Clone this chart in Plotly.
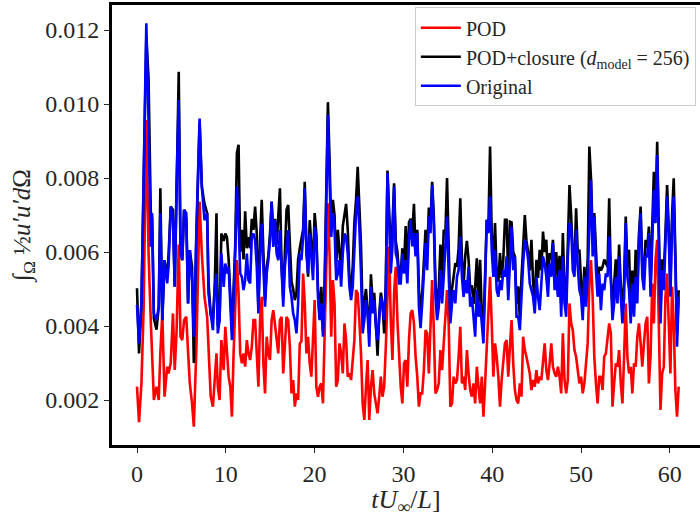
import numpy as np
import plotly.graph_objects as go

# time axis: first segment read at irregular instants, the rest on an even grid
t_head = [0, 0.23, 0.5, 0.75, 1.05, 1.3, 1.55, 1.7, 1.9, 2.2,
          2.45, 2.63, 2.85, 3.1, 3.4, 3.55, 3.8, 4.05, 4.25, 4.45,
          4.7, 4.9, 5.1, 5.3, 5.55, 5.75, 5.95, 6.2, 6.4, 6.7,
          6.9, 7.05, 7.3, 7.6, 7.9, 8.05, 8.3, 8.55, 8.75, 8.95,
          9.1, 9.3, 9.5]
t_tail = list(np.linspace(9.76, 61.0, 276))
t = t_head + t_tail

# values in units of 1e-3
original_milli = [
    # 0 - 9.5
    4.57, 3.53, 4.61, 8.67, 12.18, 9.57, 6.14, 7.05, 4.34, 4.16,
    4.52, 7.05, 4.16, 5.78, 5.15, 5.60, 7.23, 6.86, 5.06, 7.77,
    10.11, 5.96, 5.78, 7.14, 7.05, 4.61, 6.05, 5.24, 3.71, 6.68,
    8.67, 9.61, 7.77, 6.86, 7.05, 4.88, 4.34, 3.89, 5.06, 5.42,
    3.80, 4.16, 5.96,
    # 9.8 - 20.3
    5.06, 5.69, 5.42, 5.60, 4.34, 3.62, 4.79, 5.96, 7.77, 6.86,
    5.42, 5.33, 4.97, 5.24, 5.96, 5.24, 5.15, 6.41, 6.50, 6.32,
    5.60, 4.34, 5.96, 6.77, 5.60, 4.52, 5.42, 5.78, 6.32, 7.36,
    6.14, 6.86, 5.96, 5.78, 6.59, 5.42, 4.52, 5.60, 6.14, 6.59,
    5.06, 4.79, 4.34, 4.16, 3.80, 4.61, 5.96, 5.78, 6.41, 7.72,
    5.96, 5.42, 6.50, 5.78, 5.24, 6.68, 6.41,
    # 20.4 - 30.9
    4.79, 4.16, 4.61, 3.71, 4.88, 7.77, 9.70, 8.00, 6.41, 7.05,
    6.68, 5.24, 5.42, 5.78, 5.06, 5.96, 6.50, 6.41, 5.96, 5.06,
    4.70, 5.06, 6.32, 7.05, 7.50, 6.68, 5.42, 3.80, 4.16, 4.70,
    4.34, 3.44, 5.06, 4.34, 4.70, 3.98, 3.62, 4.16, 4.79, 4.52,
    4.16, 5.06, 8.13, 6.86, 5.42, 6.14, 7.77, 5.96, 5.78, 5.15,
    5.15, 5.96, 5.42, 5.78, 5.15, 6.32, 6.86,
    # 30.9 - 41.4
    6.15, 6.51, 5.88, 6.51, 4.52, 3.94, 4.61, 5.33, 6.24, 5.51,
    6.96, 6.51, 7.81, 6.78, 4.79, 4.16, 4.52, 5.51, 4.61, 5.33,
    6.24, 6.96, 5.42, 4.07, 4.61, 4.97, 4.61, 5.33, 5.51, 6.42,
    5.33, 4.79, 5.24, 4.88, 5.60, 4.52, 4.79, 4.25, 3.71, 4.97,
    4.25, 4.61, 3.98, 3.53, 5.15, 6.87, 6.51, 7.50, 6.06, 5.33,
    6.06, 4.97, 4.79, 5.24, 4.97, 5.51, 5.33,
    # 41.5 - 52.0
    5.88, 4.70, 5.69, 6.69, 5.51, 5.88, 4.25, 4.25, 3.89, 4.97,
    5.69, 6.33, 6.15, 5.79, 5.15, 4.97, 4.79, 4.34, 5.33, 4.79,
    4.43, 5.15, 5.88, 5.69, 5.33, 4.79, 5.69, 5.33, 6.24, 4.97,
    5.33, 4.79, 5.51, 4.25, 5.88, 4.61, 4.25, 5.88, 6.78, 6.69,
    5.51, 5.33, 6.60, 5.60, 4.97, 4.79, 4.16, 5.33, 4.52, 5.33,
    6.78, 7.95, 5.88, 6.96, 5.51, 4.79, 5.42,
    # 52.1 - 61.0
    4.43, 5.15, 4.97, 5.42, 5.33, 6.42, 4.97, 4.16, 4.61, 5.33,
    4.61, 5.88, 4.79, 4.07, 4.79, 6.78, 5.33, 4.97, 4.07, 5.15,
    4.25, 5.33, 4.61, 6.33, 7.05, 5.33, 4.97, 5.88, 5.88, 6.51,
    4.79, 6.51, 7.68, 6.78, 8.62, 6.33, 4.07, 5.51, 4.97, 6.24,
    7.50, 6.42, 4.79, 6.78, 7.50, 5.69, 3.44, 4.79,
]

closure_milli = [
    # 0 - 9.5
    5.02, 3.26, 4.61, 8.30, 11.80, 10.70, 7.10, 6.90, 4.20, 3.90,
    4.52, 7.72, 4.16, 5.78, 5.30, 5.90, 7.23, 7.14, 5.06, 7.50,
    10.87, 6.10, 5.78, 7.14, 6.90, 4.61, 6.05, 5.60, 3.00, 6.50,
    8.67, 9.50, 7.77, 7.30, 7.05, 5.20, 4.30, 4.20, 5.06, 7.05,
    4.00, 4.16, 6.50,
    # 9.8 - 20.3
    6.30, 6.50, 6.40, 5.80, 4.60, 3.90, 5.00, 6.20, 8.67, 8.90,
    6.00, 6.60, 5.80, 7.10, 6.10, 6.40, 6.10, 6.90, 6.60, 7.23,
    6.50, 4.50, 6.30, 7.41, 6.00, 4.70, 5.60, 5.90, 6.50, 7.36,
    6.50, 6.90, 6.20, 6.95, 7.72, 5.60, 4.80, 6.00, 7.14, 7.27,
    6.00, 5.20, 5.00, 4.70, 4.90, 5.80, 6.10, 6.32, 6.60, 7.90,
    6.20, 5.33, 6.86, 6.20, 5.60, 7.05, 6.50,
    # 20.4 - 30.9
    5.00, 4.20, 5.06, 3.90, 5.20, 8.00, 10.05, 8.50, 6.60, 7.41,
    7.00, 5.60, 6.60, 6.00, 5.50, 6.70, 7.00, 7.30, 6.60, 5.30,
    5.00, 5.60, 6.80, 7.40, 8.30, 7.00, 6.20, 4.30, 4.60, 5.00,
    4.40, 3.80, 5.40, 4.70, 4.90, 4.20, 3.20, 4.30, 4.90, 4.60,
    3.80, 5.20, 8.20, 7.10, 6.10, 6.70, 7.86, 6.30, 6.00, 5.40,
    5.40, 6.10, 5.60, 6.70, 5.40, 6.80, 6.90,
    # 30.9 - 41.4
    6.50, 7.30, 6.00, 6.60, 5.00, 4.30, 4.90, 5.60, 6.60, 5.90,
    7.20, 6.80, 7.90, 7.00, 5.20, 4.50, 5.00, 6.20, 5.20, 6.60,
    6.50, 8.00, 5.80, 4.30, 5.00, 5.40, 5.70, 5.60, 6.10, 7.45,
    5.80, 5.10, 5.90, 6.30, 5.80, 5.00, 5.10, 4.60, 5.07, 5.83,
    4.60, 5.79, 4.30, 3.90, 5.50, 6.87, 6.70, 8.85, 6.50, 5.70,
    6.78, 5.40, 5.20, 5.97, 5.30, 5.80, 6.87,
    # 41.5 - 52.0
    6.87, 5.30, 6.82, 6.80, 6.00, 5.88, 4.60, 5.07, 4.20, 5.30,
    6.20, 7.00, 6.30, 6.00, 5.50, 6.33, 5.20, 4.60, 5.79, 5.30,
    6.06, 5.50, 6.55, 6.00, 6.33, 5.20, 5.97, 5.80, 6.33, 5.30,
    6.00, 5.20, 5.90, 4.60, 6.51, 5.00, 4.60, 6.20, 7.81, 7.00,
    5.90, 5.70, 7.18, 6.00, 6.06, 5.20, 4.50, 5.60, 4.90, 5.80,
    8.85, 8.00, 6.50, 7.05, 6.00, 5.10, 5.60,
    # 52.1 - 61.0
    5.50, 5.60, 5.80, 5.70, 5.60, 7.45, 5.30, 4.50, 5.20, 5.80,
    5.00, 6.20, 5.10, 4.40, 5.20, 6.96, 5.60, 6.06, 4.40, 5.50,
    4.60, 6.06, 5.00, 6.50, 7.23, 5.60, 5.40, 6.33, 6.10, 6.69,
    5.10, 6.80, 8.17, 7.00, 8.98, 6.60, 4.40, 5.80, 5.40, 6.50,
    7.81, 6.60, 5.10, 7.00, 7.99, 5.90, 3.80, 4.97,
]

pod_milli = [
    # 0 - 9.5
    2.36, 1.40, 2.45, 4.50, 9.57, 6.00, 4.16, 3.00, 2.00, 2.36,
    2.00, 3.26, 4.34, 2.09, 2.90, 2.72, 3.00, 4.34, 2.81, 3.80,
    6.20, 3.71, 3.62, 4.16, 4.25, 3.30, 2.45, 1.91, 1.28, 3.50,
    5.96, 7.36, 5.96, 4.79, 4.25, 3.26, 2.10, 1.82, 2.50, 3.26,
    2.36, 2.00, 3.62,
    # 9.8 - 20.3
    2.81, 3.98, 3.17, 2.63, 2.36, 1.55, 3.26, 4.52, 5.78, 4.88,
    3.26, 2.99, 3.26, 2.90, 3.62, 3.26, 3.08, 3.44, 4.16, 4.16,
    3.26, 2.36, 4.16, 4.79, 2.99, 2.18, 3.71, 3.26, 3.08, 4.16,
    4.43, 3.98, 3.62, 3.26, 4.16, 4.25, 2.72, 3.71, 4.25, 4.16,
    3.44, 2.18, 2.54, 1.82, 2.18, 2.00, 3.53, 3.58, 5.42, 4.61,
    3.26, 3.71, 2.99, 2.63, 3.62, 4.70, 2.36,
    # 20.4 - 30.9
    2.09, 2.36, 2.45, 1.91, 4.16, 5.51, 7.32, 5.96, 3.71, 5.24,
    4.61, 2.36, 2.54, 3.53, 3.26, 2.72, 4.07, 3.62, 2.63, 2.72,
    2.54, 3.08, 3.62, 4.97, 4.88, 4.16, 3.26, 1.91, 1.46, 2.36,
    3.08, 1.46, 2.36, 2.81, 2.18, 1.91, 1.64, 2.09, 2.63, 2.09,
    2.36, 3.44, 5.06, 6.14, 4.16, 3.08, 4.88, 5.60, 4.16, 3.26,
    2.36, 1.91, 2.99, 3.08, 2.36, 3.62, 4.34,
    # 30.9 - 41.4
    4.43, 4.07, 3.17, 2.63, 1.82, 2.18, 2.18, 2.81, 3.89, 3.80,
    2.72, 4.07, 5.24, 3.89, 2.18, 2.27, 2.45, 3.35, 2.81, 3.53,
    4.25, 4.97, 4.07, 1.82, 1.91, 2.63, 2.45, 2.54, 3.17, 3.98,
    2.45, 2.63, 2.27, 3.35, 2.72, 2.27, 2.09, 2.45, 1.91, 2.90,
    2.36, 1.91, 2.63, 1.55, 2.45, 3.35, 4.61, 5.33, 4.07, 2.63,
    3.53, 3.17, 2.63, 1.82, 2.54, 3.17, 3.53,
    # 41.5 - 52.0
    3.62, 2.63, 3.44, 4.16, 2.99, 2.27, 2.00, 1.91, 2.45, 2.09,
    3.71, 3.35, 3.17, 2.90, 2.72, 2.27, 2.54, 2.36, 2.81, 2.45,
    2.63, 2.54, 3.17, 3.53, 2.81, 2.54, 2.99, 3.53, 2.90, 2.72,
    2.63, 2.90, 2.63, 2.18, 3.80, 2.54, 2.18, 2.54, 4.61, 4.07,
    3.89, 3.35, 3.17, 2.81, 2.45, 2.63, 2.18, 2.45, 2.90, 3.53,
    5.15, 5.78, 4.79, 3.17, 2.45, 1.91, 2.63,
    # 52.1 - 61.0
    2.63, 2.27, 3.17, 3.26, 3.62, 4.07, 3.80, 1.82, 2.45, 2.99,
    2.90, 3.35, 2.45, 1.91, 3.17, 4.61, 3.17, 2.72, 2.90, 2.18,
    2.99, 2.90, 3.71, 4.07, 3.53, 2.90, 3.53, 4.07, 4.25, 2.45,
    3.17, 5.15, 4.07, 5.78, 6.33, 3.89, 1.73, 2.72, 2.90, 4.79,
    5.42, 4.07, 2.72, 5.06, 4.07, 2.27, 1.55, 2.36,
]

assert len(t) == len(original_milli) == len(closure_milli) == len(pod_milli), (
    len(t), len(original_milli), len(closure_milli), len(pod_milli))

pod = [v * 1e-3 for v in pod_milli]
closure = [v * 1e-3 for v in closure_milli]
original = [v * 1e-3 for v in original_milli]

y_ticks = [0.002, 0.004, 0.006, 0.008, 0.010, 0.012]
y_ticktext = ["0.002", "0.004", "0.006", "0.008", "0.010", "0.012"]
x_ticks = [0, 10, 20, 30, 40, 50, 60]

FONT = "Liberation Serif, DejaVu Serif, serif"
TXT = "#262626"
LW = 2.6

fig = go.Figure()
fig.add_trace(go.Scatter(x=t, y=pod, mode="lines", name="POD",
                         line=dict(color="#ff0000", width=LW)))
fig.add_trace(go.Scatter(x=t, y=closure, mode="lines",
                         name="POD+closure (<i>d</i><sub>model</sub> = 256)",
                         line=dict(color="#000000", width=LW)))
fig.add_trace(go.Scatter(x=t, y=original, mode="lines", name="Original",
                         line=dict(color="#0000ff", width=LW)))

fig.update_layout(
    width=700, height=517,
    margin=dict(l=112, r=0, t=5, b=72),
    paper_bgcolor="white", plot_bgcolor="white",
    font=dict(family=FONT, size=24, color=TXT),
    showlegend=True,
    legend=dict(
        x=0.993, xanchor="right", y=0.995, yanchor="top",
        bgcolor="rgba(255,255,255,0.85)", bordercolor="#cccccc", borderwidth=1,
        font=dict(family=FONT, size=20, color=TXT),
        tracegroupgap=0, itemwidth=40,
    ),
    xaxis=dict(
        range=[-2.815, 63.40], tickvals=x_ticks,
        showgrid=False, zeroline=False,
        showline=True, linecolor="black", linewidth=3, mirror=True,
        ticks="outside", ticklen=5, tickwidth=1.2, tickcolor=TXT,
        tickfont=dict(family=FONT, size=24, color=TXT),
        title=dict(text="<i>tU</i><sub>∞</sub>/<i>L</i>]",
                   font=dict(family=FONT, size=26, color=TXT), standoff=3),
    ),
    yaxis=dict(
        range=[0.000784, 0.012676], tickvals=y_ticks, ticktext=y_ticktext,
        showgrid=False, zeroline=False,
        showline=True, linecolor="black", linewidth=3, mirror=False,
        ticks="outside", ticklen=5, tickwidth=1.2, tickcolor=TXT,
        tickfont=dict(family=FONT, size=24, color=TXT),
        title=dict(text="∫<sub>Ω</sub> ½<i>u′u′d</i>Ω",
                   font=dict(family=FONT, size=25, color=TXT), standoff=8),
    ),
)

fig.write_html("out.html")
